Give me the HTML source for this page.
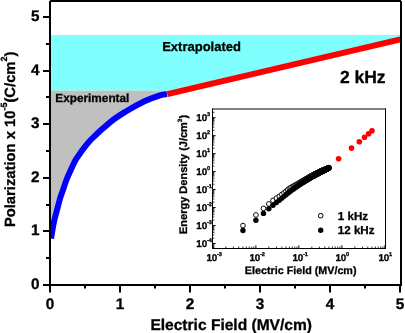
<!DOCTYPE html>
<html><head><meta charset="utf-8"><style>
html,body{margin:0;padding:0;background:#fff;width:405px;height:333px;overflow:hidden}
svg{display:block}
text{text-rendering:geometricPrecision;stroke:#000;stroke-width:0.3px}
</style></head><body>
<svg width="405" height="333" viewBox="0 0 405 333" style="will-change:transform">
<rect x="0" y="0" width="405" height="333" fill="#fff"/>
<path d="M50,35 L401,35 L401,39.22 L167.3,94.13 L167.3,90.7 L50,90.7 Z" fill="#80ffff"/>
<path d="M50,90.7 L167,90.7 L167.00,94.10 C165.83,94.30 163.67,94.15 160.00,95.30 C156.33,96.45 150.83,98.22 145.00,101.00 C139.17,103.78 130.83,108.45 125.00,112.00 C119.17,115.55 115.73,117.63 110.00,122.30 C104.27,126.97 95.57,134.85 90.60,140.00 C85.63,145.15 82.75,149.78 80.20,153.20 C77.65,156.62 76.87,157.70 75.30,160.50 C73.73,163.30 72.28,166.75 70.80,170.00 C69.32,173.25 67.70,176.67 66.40,180.00 C65.10,183.33 64.03,187.00 63.00,190.00 C61.97,193.00 61.20,194.67 60.20,198.00 C59.20,201.33 58.05,206.00 57.00,210.00 C55.95,214.00 54.68,218.50 53.90,222.00 C53.12,225.50 52.78,228.23 52.30,231.00 C51.82,233.77 51.22,237.33 51.00,238.60 L50,238.6 Z" fill="#c0c0c0"/>
<defs><clipPath id="pa"><rect x="50" y="1" width="351" height="284"/></clipPath></defs>
<path d="M51.00,238.60 C51.22,237.33 51.82,233.77 52.30,231.00 C52.78,228.23 53.12,225.50 53.90,222.00 C54.68,218.50 55.95,214.00 57.00,210.00 C58.05,206.00 59.20,201.33 60.20,198.00 C61.20,194.67 61.97,193.00 63.00,190.00 C64.03,187.00 65.10,183.33 66.40,180.00 C67.70,176.67 69.32,173.25 70.80,170.00 C72.28,166.75 73.73,163.30 75.30,160.50 C76.87,157.70 77.65,156.62 80.20,153.20 C82.75,149.78 85.63,145.15 90.60,140.00 C95.57,134.85 104.27,126.97 110.00,122.30 C115.73,117.63 119.17,115.55 125.00,112.00 C130.83,108.45 139.17,103.78 145.00,101.00 C150.83,98.22 156.33,96.45 160.00,95.30 C163.67,94.15 165.83,94.30 167.00,94.10" fill="none" stroke="#0000ff" stroke-width="6" stroke-linecap="butt" stroke-linejoin="round" clip-path="url(#pa)"/>
<line x1="167.3" y1="94.13" x2="400.5" y2="39.33" stroke="#ff0000" stroke-width="6"/>
<path d="M50,0H401V2H50Z M49,1H51V286H49Z M400,1H402V286H400Z M49,284H402V286H49Z" fill="#000"/>
<line x1="43" y1="285.0" x2="50" y2="285.0" stroke="#000" stroke-width="2"/>
<text x="39.5" y="288.6" font-family="Liberation Sans" font-weight="bold" font-size="15.3" text-anchor="end">0</text>
<line x1="43" y1="231.0" x2="50" y2="231.0" stroke="#000" stroke-width="2"/>
<text x="39.5" y="234.6" font-family="Liberation Sans" font-weight="bold" font-size="15.3" text-anchor="end">1</text>
<line x1="43" y1="178.0" x2="50" y2="178.0" stroke="#000" stroke-width="2"/>
<text x="39.5" y="181.6" font-family="Liberation Sans" font-weight="bold" font-size="15.3" text-anchor="end">2</text>
<line x1="43" y1="124.0" x2="50" y2="124.0" stroke="#000" stroke-width="2"/>
<text x="39.5" y="127.6" font-family="Liberation Sans" font-weight="bold" font-size="15.3" text-anchor="end">3</text>
<line x1="43" y1="71.0" x2="50" y2="71.0" stroke="#000" stroke-width="2"/>
<text x="39.5" y="74.6" font-family="Liberation Sans" font-weight="bold" font-size="15.3" text-anchor="end">4</text>
<line x1="43" y1="17.0" x2="50" y2="17.0" stroke="#000" stroke-width="2"/>
<text x="39.5" y="20.6" font-family="Liberation Sans" font-weight="bold" font-size="15.3" text-anchor="end">5</text>
<line x1="46" y1="258.0" x2="50" y2="258.0" stroke="#000" stroke-width="2"/>
<line x1="46" y1="205.0" x2="50" y2="205.0" stroke="#000" stroke-width="2"/>
<line x1="46" y1="151.0" x2="50" y2="151.0" stroke="#000" stroke-width="2"/>
<line x1="46" y1="97.0" x2="50" y2="97.0" stroke="#000" stroke-width="2"/>
<line x1="46" y1="44.0" x2="50" y2="44.0" stroke="#000" stroke-width="2"/>
<line x1="50" y1="285" x2="50" y2="292.5" stroke="#000" stroke-width="2"/>
<text x="50" y="308.8" font-family="Liberation Sans" font-weight="bold" font-size="15.3" text-anchor="middle">0</text>
<line x1="120" y1="285" x2="120" y2="292.5" stroke="#000" stroke-width="2"/>
<text x="120" y="308.8" font-family="Liberation Sans" font-weight="bold" font-size="15.3" text-anchor="middle">1</text>
<line x1="190" y1="285" x2="190" y2="292.5" stroke="#000" stroke-width="2"/>
<text x="190" y="308.8" font-family="Liberation Sans" font-weight="bold" font-size="15.3" text-anchor="middle">2</text>
<line x1="260" y1="285" x2="260" y2="292.5" stroke="#000" stroke-width="2"/>
<text x="260" y="308.8" font-family="Liberation Sans" font-weight="bold" font-size="15.3" text-anchor="middle">3</text>
<line x1="330" y1="285" x2="330" y2="292.5" stroke="#000" stroke-width="2"/>
<text x="330" y="308.8" font-family="Liberation Sans" font-weight="bold" font-size="15.3" text-anchor="middle">4</text>
<line x1="400" y1="285" x2="400" y2="292.5" stroke="#000" stroke-width="2"/>
<text x="400" y="308.8" font-family="Liberation Sans" font-weight="bold" font-size="15.3" text-anchor="middle">5</text>
<line x1="85.0" y1="285" x2="85.0" y2="288.6" stroke="#000" stroke-width="2"/>
<line x1="155.0" y1="285" x2="155.0" y2="288.6" stroke="#000" stroke-width="2"/>
<line x1="225.0" y1="285" x2="225.0" y2="288.6" stroke="#000" stroke-width="2"/>
<line x1="295.0" y1="285" x2="295.0" y2="288.6" stroke="#000" stroke-width="2"/>
<line x1="365.0" y1="285" x2="365.0" y2="288.6" stroke="#000" stroke-width="2"/>
<text x="150.4" y="329.5" font-family="Liberation Sans" font-weight="bold" font-size="15.55">Electric Field (MV/cm)</text>
<text transform="translate(14.6,227.1) rotate(-90)" font-family="Liberation Sans" font-weight="bold" font-size="14.77">Polarization x 10<tspan font-size="9" dy="-8">-5</tspan><tspan dy="8">(C/cm</tspan><tspan font-size="9" dy="-8">2</tspan><tspan dy="8">)</tspan></text>
<text x="162.2" y="51.3" font-family="Liberation Sans" font-weight="bold" font-size="13">Extrapolated</text>
<text x="55.3" y="101.7" font-family="Liberation Sans" font-weight="bold" font-size="11.8">Experimental</text>
<text x="339.9" y="82.8" font-family="Liberation Sans" font-weight="bold" font-size="17.5">2 kHz</text>
<rect x="212" y="109" width="174" height="140" fill="#fff" stroke="none"/>
<circle cx="242.96" cy="225.57" r="2.35" fill="#fff" stroke="#000" stroke-width="0.95"/>
<circle cx="255.90" cy="214.98" r="2.35" fill="#fff" stroke="#000" stroke-width="0.95"/>
<circle cx="263.47" cy="208.39" r="2.35" fill="#fff" stroke="#000" stroke-width="0.95"/>
<circle cx="268.84" cy="203.93" r="2.35" fill="#fff" stroke="#000" stroke-width="0.95"/>
<circle cx="273.01" cy="200.40" r="2.35" fill="#fff" stroke="#000" stroke-width="0.95"/>
<circle cx="276.42" cy="198.12" r="2.35" fill="#fff" stroke="#000" stroke-width="0.95"/>
<circle cx="279.29" cy="196.28" r="2.35" fill="#fff" stroke="#000" stroke-width="0.95"/>
<circle cx="281.79" cy="194.47" r="2.35" fill="#fff" stroke="#000" stroke-width="0.95"/>
<circle cx="283.99" cy="192.86" r="2.35" fill="#fff" stroke="#000" stroke-width="0.95"/>
<circle cx="285.96" cy="191.29" r="2.35" fill="#fff" stroke="#000" stroke-width="0.95"/>
<circle cx="287.74" cy="189.76" r="2.35" fill="#fff" stroke="#000" stroke-width="0.95"/>
<circle cx="289.36" cy="188.50" r="2.35" fill="#fff" stroke="#000" stroke-width="0.95"/>
<circle cx="290.86" cy="187.53" r="2.35" fill="#fff" stroke="#000" stroke-width="0.95"/>
<circle cx="292.24" cy="186.77" r="2.35" fill="#fff" stroke="#000" stroke-width="0.95"/>
<circle cx="293.53" cy="186.06" r="2.35" fill="#fff" stroke="#000" stroke-width="0.95"/>
<circle cx="294.73" cy="185.40" r="2.35" fill="#fff" stroke="#000" stroke-width="0.95"/>
<circle cx="295.87" cy="184.77" r="2.35" fill="#fff" stroke="#000" stroke-width="0.95"/>
<circle cx="296.93" cy="184.19" r="2.35" fill="#fff" stroke="#000" stroke-width="0.95"/>
<circle cx="297.94" cy="183.63" r="2.35" fill="#fff" stroke="#000" stroke-width="0.95"/>
<circle cx="298.90" cy="183.11" r="2.35" fill="#fff" stroke="#000" stroke-width="0.95"/>
<circle cx="299.81" cy="182.60" r="2.35" fill="#fff" stroke="#000" stroke-width="0.95"/>
<circle cx="300.68" cy="182.09" r="2.35" fill="#fff" stroke="#000" stroke-width="0.95"/>
<circle cx="301.51" cy="181.59" r="2.35" fill="#fff" stroke="#000" stroke-width="0.95"/>
<circle cx="302.30" cy="181.12" r="2.35" fill="#fff" stroke="#000" stroke-width="0.95"/>
<circle cx="303.07" cy="180.66" r="2.35" fill="#fff" stroke="#000" stroke-width="0.95"/>
<circle cx="303.80" cy="180.22" r="2.35" fill="#fff" stroke="#000" stroke-width="0.95"/>
<circle cx="304.50" cy="179.80" r="2.35" fill="#fff" stroke="#000" stroke-width="0.95"/>
<circle cx="305.18" cy="179.39" r="2.35" fill="#fff" stroke="#000" stroke-width="0.95"/>
<circle cx="305.84" cy="179.00" r="2.35" fill="#fff" stroke="#000" stroke-width="0.95"/>
<circle cx="306.47" cy="178.62" r="2.35" fill="#fff" stroke="#000" stroke-width="0.95"/>
<circle cx="307.08" cy="178.25" r="2.35" fill="#fff" stroke="#000" stroke-width="0.95"/>
<circle cx="307.68" cy="177.89" r="2.35" fill="#fff" stroke="#000" stroke-width="0.95"/>
<circle cx="308.25" cy="177.55" r="2.35" fill="#fff" stroke="#000" stroke-width="0.95"/>
<circle cx="308.81" cy="177.21" r="2.35" fill="#fff" stroke="#000" stroke-width="0.95"/>
<circle cx="309.35" cy="176.89" r="2.35" fill="#fff" stroke="#000" stroke-width="0.95"/>
<circle cx="309.88" cy="176.57" r="2.35" fill="#fff" stroke="#000" stroke-width="0.95"/>
<circle cx="310.39" cy="176.30" r="2.35" fill="#fff" stroke="#000" stroke-width="0.95"/>
<circle cx="310.89" cy="176.05" r="2.35" fill="#fff" stroke="#000" stroke-width="0.95"/>
<circle cx="311.37" cy="175.80" r="2.35" fill="#fff" stroke="#000" stroke-width="0.95"/>
<circle cx="311.84" cy="175.56" r="2.35" fill="#fff" stroke="#000" stroke-width="0.95"/>
<circle cx="312.31" cy="175.32" r="2.35" fill="#fff" stroke="#000" stroke-width="0.95"/>
<circle cx="312.76" cy="175.09" r="2.35" fill="#fff" stroke="#000" stroke-width="0.95"/>
<circle cx="313.19" cy="174.87" r="2.35" fill="#fff" stroke="#000" stroke-width="0.95"/>
<circle cx="313.62" cy="174.65" r="2.35" fill="#fff" stroke="#000" stroke-width="0.95"/>
<circle cx="314.04" cy="174.44" r="2.35" fill="#fff" stroke="#000" stroke-width="0.95"/>
<circle cx="314.45" cy="174.23" r="2.35" fill="#fff" stroke="#000" stroke-width="0.95"/>
<circle cx="314.86" cy="174.02" r="2.35" fill="#fff" stroke="#000" stroke-width="0.95"/>
<circle cx="315.25" cy="173.82" r="2.35" fill="#fff" stroke="#000" stroke-width="0.95"/>
<circle cx="315.63" cy="173.63" r="2.35" fill="#fff" stroke="#000" stroke-width="0.95"/>
<circle cx="316.01" cy="173.43" r="2.35" fill="#fff" stroke="#000" stroke-width="0.95"/>
<circle cx="316.38" cy="173.25" r="2.35" fill="#fff" stroke="#000" stroke-width="0.95"/>
<circle cx="316.74" cy="173.06" r="2.35" fill="#fff" stroke="#000" stroke-width="0.95"/>
<circle cx="317.10" cy="172.88" r="2.35" fill="#fff" stroke="#000" stroke-width="0.95"/>
<circle cx="317.45" cy="172.70" r="2.35" fill="#fff" stroke="#000" stroke-width="0.95"/>
<circle cx="317.79" cy="172.53" r="2.35" fill="#fff" stroke="#000" stroke-width="0.95"/>
<circle cx="318.13" cy="172.35" r="2.35" fill="#fff" stroke="#000" stroke-width="0.95"/>
<circle cx="318.46" cy="172.19" r="2.35" fill="#fff" stroke="#000" stroke-width="0.95"/>
<circle cx="318.78" cy="172.02" r="2.35" fill="#fff" stroke="#000" stroke-width="0.95"/>
<circle cx="319.10" cy="171.86" r="2.35" fill="#fff" stroke="#000" stroke-width="0.95"/>
<circle cx="319.42" cy="171.70" r="2.35" fill="#fff" stroke="#000" stroke-width="0.95"/>
<circle cx="319.72" cy="171.54" r="2.35" fill="#fff" stroke="#000" stroke-width="0.95"/>
<circle cx="320.03" cy="171.39" r="2.35" fill="#fff" stroke="#000" stroke-width="0.95"/>
<circle cx="320.33" cy="171.26" r="2.35" fill="#fff" stroke="#000" stroke-width="0.95"/>
<circle cx="320.62" cy="171.14" r="2.35" fill="#fff" stroke="#000" stroke-width="0.95"/>
<circle cx="320.91" cy="171.02" r="2.35" fill="#fff" stroke="#000" stroke-width="0.95"/>
<circle cx="321.20" cy="170.89" r="2.35" fill="#fff" stroke="#000" stroke-width="0.95"/>
<circle cx="321.48" cy="170.78" r="2.35" fill="#fff" stroke="#000" stroke-width="0.95"/>
<circle cx="321.75" cy="170.66" r="2.35" fill="#fff" stroke="#000" stroke-width="0.95"/>
<circle cx="322.03" cy="170.54" r="2.35" fill="#fff" stroke="#000" stroke-width="0.95"/>
<circle cx="322.29" cy="170.43" r="2.35" fill="#fff" stroke="#000" stroke-width="0.95"/>
<circle cx="322.56" cy="170.32" r="2.35" fill="#fff" stroke="#000" stroke-width="0.95"/>
<circle cx="322.82" cy="170.21" r="2.35" fill="#fff" stroke="#000" stroke-width="0.95"/>
<circle cx="323.08" cy="170.10" r="2.35" fill="#fff" stroke="#000" stroke-width="0.95"/>
<circle cx="323.33" cy="169.99" r="2.35" fill="#fff" stroke="#000" stroke-width="0.95"/>
<circle cx="323.58" cy="169.89" r="2.35" fill="#fff" stroke="#000" stroke-width="0.95"/>
<circle cx="323.83" cy="169.78" r="2.35" fill="#fff" stroke="#000" stroke-width="0.95"/>
<circle cx="324.07" cy="169.68" r="2.35" fill="#fff" stroke="#000" stroke-width="0.95"/>
<circle cx="324.32" cy="169.58" r="2.35" fill="#fff" stroke="#000" stroke-width="0.95"/>
<circle cx="324.55" cy="169.48" r="2.35" fill="#fff" stroke="#000" stroke-width="0.95"/>
<circle cx="324.79" cy="169.38" r="2.35" fill="#fff" stroke="#000" stroke-width="0.95"/>
<circle cx="325.02" cy="169.28" r="2.35" fill="#fff" stroke="#000" stroke-width="0.95"/>
<circle cx="325.25" cy="169.18" r="2.35" fill="#fff" stroke="#000" stroke-width="0.95"/>
<circle cx="325.48" cy="169.09" r="2.35" fill="#fff" stroke="#000" stroke-width="0.95"/>
<circle cx="325.70" cy="168.99" r="2.35" fill="#fff" stroke="#000" stroke-width="0.95"/>
<circle cx="325.92" cy="168.90" r="2.35" fill="#fff" stroke="#000" stroke-width="0.95"/>
<circle cx="326.14" cy="168.81" r="2.35" fill="#fff" stroke="#000" stroke-width="0.95"/>
<circle cx="326.36" cy="168.72" r="2.35" fill="#fff" stroke="#000" stroke-width="0.95"/>
<circle cx="326.57" cy="168.63" r="2.35" fill="#fff" stroke="#000" stroke-width="0.95"/>
<circle cx="326.78" cy="168.54" r="2.35" fill="#fff" stroke="#000" stroke-width="0.95"/>
<circle cx="326.99" cy="168.45" r="2.35" fill="#fff" stroke="#000" stroke-width="0.95"/>
<circle cx="327.19" cy="168.36" r="2.35" fill="#fff" stroke="#000" stroke-width="0.95"/>
<circle cx="327.40" cy="168.28" r="2.35" fill="#fff" stroke="#000" stroke-width="0.95"/>
<circle cx="327.60" cy="168.19" r="2.35" fill="#fff" stroke="#000" stroke-width="0.95"/>
<circle cx="327.80" cy="168.11" r="2.35" fill="#fff" stroke="#000" stroke-width="0.95"/>
<circle cx="328.00" cy="168.02" r="2.35" fill="#fff" stroke="#000" stroke-width="0.95"/>
<circle cx="328.19" cy="167.94" r="2.35" fill="#fff" stroke="#000" stroke-width="0.95"/>
<circle cx="328.39" cy="167.86" r="2.35" fill="#fff" stroke="#000" stroke-width="0.95"/>
<circle cx="328.58" cy="167.78" r="2.35" fill="#fff" stroke="#000" stroke-width="0.95"/>
<circle cx="328.77" cy="167.70" r="2.35" fill="#fff" stroke="#000" stroke-width="0.95"/>
<circle cx="328.96" cy="167.62" r="2.35" fill="#fff" stroke="#000" stroke-width="0.95"/>
<circle cx="242.96" cy="230.48" r="2.7" fill="#000"/>
<circle cx="255.90" cy="220.18" r="2.7" fill="#000"/>
<circle cx="263.47" cy="213.38" r="2.7" fill="#000"/>
<circle cx="268.84" cy="208.75" r="2.7" fill="#000"/>
<circle cx="273.01" cy="205.34" r="2.7" fill="#000"/>
<circle cx="276.42" cy="202.54" r="2.7" fill="#000"/>
<circle cx="279.29" cy="200.18" r="2.7" fill="#000"/>
<circle cx="281.79" cy="198.14" r="2.7" fill="#000"/>
<circle cx="283.99" cy="196.33" r="2.7" fill="#000"/>
<circle cx="285.96" cy="194.72" r="2.7" fill="#000"/>
<circle cx="287.74" cy="193.26" r="2.7" fill="#000"/>
<circle cx="289.36" cy="191.92" r="2.7" fill="#000"/>
<circle cx="290.86" cy="190.79" r="2.7" fill="#000"/>
<circle cx="292.24" cy="189.81" r="2.7" fill="#000"/>
<circle cx="293.53" cy="188.90" r="2.7" fill="#000"/>
<circle cx="294.73" cy="188.04" r="2.7" fill="#000"/>
<circle cx="295.87" cy="187.24" r="2.7" fill="#000"/>
<circle cx="296.93" cy="186.48" r="2.7" fill="#000"/>
<circle cx="297.94" cy="185.76" r="2.7" fill="#000"/>
<circle cx="298.90" cy="185.08" r="2.7" fill="#000"/>
<circle cx="299.81" cy="184.43" r="2.7" fill="#000"/>
<circle cx="300.68" cy="183.88" r="2.7" fill="#000"/>
<circle cx="301.51" cy="183.36" r="2.7" fill="#000"/>
<circle cx="302.30" cy="182.87" r="2.7" fill="#000"/>
<circle cx="303.07" cy="182.40" r="2.7" fill="#000"/>
<circle cx="303.80" cy="181.94" r="2.7" fill="#000"/>
<circle cx="304.50" cy="181.51" r="2.7" fill="#000"/>
<circle cx="305.18" cy="181.09" r="2.7" fill="#000"/>
<circle cx="305.84" cy="180.68" r="2.7" fill="#000"/>
<circle cx="306.47" cy="180.29" r="2.7" fill="#000"/>
<circle cx="307.08" cy="179.91" r="2.7" fill="#000"/>
<circle cx="307.68" cy="179.54" r="2.7" fill="#000"/>
<circle cx="308.25" cy="179.18" r="2.7" fill="#000"/>
<circle cx="308.81" cy="178.84" r="2.7" fill="#000"/>
<circle cx="309.35" cy="178.50" r="2.7" fill="#000"/>
<circle cx="309.88" cy="178.18" r="2.7" fill="#000"/>
<circle cx="310.39" cy="177.89" r="2.7" fill="#000"/>
<circle cx="310.89" cy="177.61" r="2.7" fill="#000"/>
<circle cx="311.37" cy="177.35" r="2.7" fill="#000"/>
<circle cx="311.84" cy="177.09" r="2.7" fill="#000"/>
<circle cx="312.31" cy="176.83" r="2.7" fill="#000"/>
<circle cx="312.76" cy="176.58" r="2.7" fill="#000"/>
<circle cx="313.19" cy="176.34" r="2.7" fill="#000"/>
<circle cx="313.62" cy="176.11" r="2.7" fill="#000"/>
<circle cx="314.04" cy="175.88" r="2.7" fill="#000"/>
<circle cx="314.45" cy="175.65" r="2.7" fill="#000"/>
<circle cx="314.86" cy="175.43" r="2.7" fill="#000"/>
<circle cx="315.25" cy="175.21" r="2.7" fill="#000"/>
<circle cx="315.63" cy="175.00" r="2.7" fill="#000"/>
<circle cx="316.01" cy="174.79" r="2.7" fill="#000"/>
<circle cx="316.38" cy="174.59" r="2.7" fill="#000"/>
<circle cx="316.74" cy="174.39" r="2.7" fill="#000"/>
<circle cx="317.10" cy="174.20" r="2.7" fill="#000"/>
<circle cx="317.45" cy="174.00" r="2.7" fill="#000"/>
<circle cx="317.79" cy="173.81" r="2.7" fill="#000"/>
<circle cx="318.13" cy="173.63" r="2.7" fill="#000"/>
<circle cx="318.46" cy="173.45" r="2.7" fill="#000"/>
<circle cx="318.78" cy="173.27" r="2.7" fill="#000"/>
<circle cx="319.10" cy="173.09" r="2.7" fill="#000"/>
<circle cx="319.42" cy="172.92" r="2.7" fill="#000"/>
<circle cx="319.72" cy="172.75" r="2.7" fill="#000"/>
<circle cx="320.03" cy="172.59" r="2.7" fill="#000"/>
<circle cx="320.33" cy="172.43" r="2.7" fill="#000"/>
<circle cx="320.62" cy="172.28" r="2.7" fill="#000"/>
<circle cx="320.91" cy="172.13" r="2.7" fill="#000"/>
<circle cx="321.20" cy="171.99" r="2.7" fill="#000"/>
<circle cx="321.48" cy="171.85" r="2.7" fill="#000"/>
<circle cx="321.75" cy="171.70" r="2.7" fill="#000"/>
<circle cx="322.03" cy="171.56" r="2.7" fill="#000"/>
<circle cx="322.29" cy="171.43" r="2.7" fill="#000"/>
<circle cx="322.56" cy="171.29" r="2.7" fill="#000"/>
<circle cx="322.82" cy="171.16" r="2.7" fill="#000"/>
<circle cx="323.08" cy="171.03" r="2.7" fill="#000"/>
<circle cx="323.33" cy="170.90" r="2.7" fill="#000"/>
<circle cx="323.58" cy="170.77" r="2.7" fill="#000"/>
<circle cx="323.83" cy="170.64" r="2.7" fill="#000"/>
<circle cx="324.07" cy="170.52" r="2.7" fill="#000"/>
<circle cx="324.32" cy="170.39" r="2.7" fill="#000"/>
<circle cx="324.55" cy="170.27" r="2.7" fill="#000"/>
<circle cx="324.79" cy="170.15" r="2.7" fill="#000"/>
<circle cx="325.02" cy="170.03" r="2.7" fill="#000"/>
<circle cx="325.25" cy="169.92" r="2.7" fill="#000"/>
<circle cx="325.48" cy="169.80" r="2.7" fill="#000"/>
<circle cx="325.70" cy="169.69" r="2.7" fill="#000"/>
<circle cx="325.92" cy="169.57" r="2.7" fill="#000"/>
<circle cx="326.14" cy="169.46" r="2.7" fill="#000"/>
<circle cx="326.36" cy="169.35" r="2.7" fill="#000"/>
<circle cx="326.57" cy="169.24" r="2.7" fill="#000"/>
<circle cx="326.78" cy="169.13" r="2.7" fill="#000"/>
<circle cx="326.99" cy="169.03" r="2.7" fill="#000"/>
<circle cx="327.19" cy="168.92" r="2.7" fill="#000"/>
<circle cx="327.40" cy="168.82" r="2.7" fill="#000"/>
<circle cx="327.60" cy="168.72" r="2.7" fill="#000"/>
<circle cx="327.80" cy="168.61" r="2.7" fill="#000"/>
<circle cx="328.00" cy="168.51" r="2.7" fill="#000"/>
<circle cx="328.19" cy="168.41" r="2.7" fill="#000"/>
<circle cx="328.39" cy="168.31" r="2.7" fill="#000"/>
<circle cx="328.58" cy="168.22" r="2.7" fill="#000"/>
<circle cx="328.77" cy="168.12" r="2.7" fill="#000"/>
<circle cx="328.96" cy="168.02" r="2.7" fill="#000"/>
<circle cx="338.60" cy="158.70" r="2.8" fill="#ff0000"/>
<circle cx="351.50" cy="148.10" r="2.8" fill="#ff0000"/>
<circle cx="359.30" cy="141.80" r="2.8" fill="#ff0000"/>
<circle cx="364.50" cy="137.30" r="2.8" fill="#ff0000"/>
<circle cx="368.60" cy="133.80" r="2.8" fill="#ff0000"/>
<circle cx="372.00" cy="130.80" r="2.8" fill="#ff0000"/>
<path d="M212.5,108.5 V249 M212,109 H386 M385.5,108.5 V249 M212,248.5 H386" fill="none" stroke="#000" stroke-width="1"/>
<line x1="212.5" y1="243.49" x2="215.6" y2="243.49" stroke="#000" stroke-width="1"/>
<line x1="212.5" y1="238.08" x2="214.4" y2="238.08" stroke="#000" stroke-width="0.8"/>
<line x1="212.5" y1="234.92" x2="214.4" y2="234.92" stroke="#000" stroke-width="0.8"/>
<line x1="212.5" y1="232.67" x2="214.4" y2="232.67" stroke="#000" stroke-width="0.8"/>
<line x1="212.5" y1="230.93" x2="214.4" y2="230.93" stroke="#000" stroke-width="0.8"/>
<line x1="212.5" y1="229.51" x2="214.4" y2="229.51" stroke="#000" stroke-width="0.8"/>
<line x1="212.5" y1="228.30" x2="214.4" y2="228.30" stroke="#000" stroke-width="0.8"/>
<line x1="212.5" y1="227.26" x2="214.4" y2="227.26" stroke="#000" stroke-width="0.8"/>
<line x1="212.5" y1="226.34" x2="214.4" y2="226.34" stroke="#000" stroke-width="0.8"/>
<line x1="212.5" y1="225.52" x2="215.6" y2="225.52" stroke="#000" stroke-width="1"/>
<line x1="212.5" y1="220.11" x2="214.4" y2="220.11" stroke="#000" stroke-width="0.8"/>
<line x1="212.5" y1="216.95" x2="214.4" y2="216.95" stroke="#000" stroke-width="0.8"/>
<line x1="212.5" y1="214.70" x2="214.4" y2="214.70" stroke="#000" stroke-width="0.8"/>
<line x1="212.5" y1="212.96" x2="214.4" y2="212.96" stroke="#000" stroke-width="0.8"/>
<line x1="212.5" y1="211.54" x2="214.4" y2="211.54" stroke="#000" stroke-width="0.8"/>
<line x1="212.5" y1="210.33" x2="214.4" y2="210.33" stroke="#000" stroke-width="0.8"/>
<line x1="212.5" y1="209.29" x2="214.4" y2="209.29" stroke="#000" stroke-width="0.8"/>
<line x1="212.5" y1="208.37" x2="214.4" y2="208.37" stroke="#000" stroke-width="0.8"/>
<line x1="212.5" y1="207.55" x2="215.6" y2="207.55" stroke="#000" stroke-width="1"/>
<line x1="212.5" y1="202.14" x2="214.4" y2="202.14" stroke="#000" stroke-width="0.8"/>
<line x1="212.5" y1="198.98" x2="214.4" y2="198.98" stroke="#000" stroke-width="0.8"/>
<line x1="212.5" y1="196.73" x2="214.4" y2="196.73" stroke="#000" stroke-width="0.8"/>
<line x1="212.5" y1="194.99" x2="214.4" y2="194.99" stroke="#000" stroke-width="0.8"/>
<line x1="212.5" y1="193.57" x2="214.4" y2="193.57" stroke="#000" stroke-width="0.8"/>
<line x1="212.5" y1="192.36" x2="214.4" y2="192.36" stroke="#000" stroke-width="0.8"/>
<line x1="212.5" y1="191.32" x2="214.4" y2="191.32" stroke="#000" stroke-width="0.8"/>
<line x1="212.5" y1="190.40" x2="214.4" y2="190.40" stroke="#000" stroke-width="0.8"/>
<line x1="212.5" y1="189.58" x2="215.6" y2="189.58" stroke="#000" stroke-width="1"/>
<line x1="212.5" y1="184.17" x2="214.4" y2="184.17" stroke="#000" stroke-width="0.8"/>
<line x1="212.5" y1="181.01" x2="214.4" y2="181.01" stroke="#000" stroke-width="0.8"/>
<line x1="212.5" y1="178.76" x2="214.4" y2="178.76" stroke="#000" stroke-width="0.8"/>
<line x1="212.5" y1="177.02" x2="214.4" y2="177.02" stroke="#000" stroke-width="0.8"/>
<line x1="212.5" y1="175.60" x2="214.4" y2="175.60" stroke="#000" stroke-width="0.8"/>
<line x1="212.5" y1="174.39" x2="214.4" y2="174.39" stroke="#000" stroke-width="0.8"/>
<line x1="212.5" y1="173.35" x2="214.4" y2="173.35" stroke="#000" stroke-width="0.8"/>
<line x1="212.5" y1="172.43" x2="214.4" y2="172.43" stroke="#000" stroke-width="0.8"/>
<line x1="212.5" y1="171.61" x2="215.6" y2="171.61" stroke="#000" stroke-width="1"/>
<line x1="212.5" y1="166.20" x2="214.4" y2="166.20" stroke="#000" stroke-width="0.8"/>
<line x1="212.5" y1="163.04" x2="214.4" y2="163.04" stroke="#000" stroke-width="0.8"/>
<line x1="212.5" y1="160.79" x2="214.4" y2="160.79" stroke="#000" stroke-width="0.8"/>
<line x1="212.5" y1="159.05" x2="214.4" y2="159.05" stroke="#000" stroke-width="0.8"/>
<line x1="212.5" y1="157.63" x2="214.4" y2="157.63" stroke="#000" stroke-width="0.8"/>
<line x1="212.5" y1="156.42" x2="214.4" y2="156.42" stroke="#000" stroke-width="0.8"/>
<line x1="212.5" y1="155.38" x2="214.4" y2="155.38" stroke="#000" stroke-width="0.8"/>
<line x1="212.5" y1="154.46" x2="214.4" y2="154.46" stroke="#000" stroke-width="0.8"/>
<line x1="212.5" y1="153.64" x2="215.6" y2="153.64" stroke="#000" stroke-width="1"/>
<line x1="212.5" y1="148.23" x2="214.4" y2="148.23" stroke="#000" stroke-width="0.8"/>
<line x1="212.5" y1="145.07" x2="214.4" y2="145.07" stroke="#000" stroke-width="0.8"/>
<line x1="212.5" y1="142.82" x2="214.4" y2="142.82" stroke="#000" stroke-width="0.8"/>
<line x1="212.5" y1="141.08" x2="214.4" y2="141.08" stroke="#000" stroke-width="0.8"/>
<line x1="212.5" y1="139.66" x2="214.4" y2="139.66" stroke="#000" stroke-width="0.8"/>
<line x1="212.5" y1="138.45" x2="214.4" y2="138.45" stroke="#000" stroke-width="0.8"/>
<line x1="212.5" y1="137.41" x2="214.4" y2="137.41" stroke="#000" stroke-width="0.8"/>
<line x1="212.5" y1="136.49" x2="214.4" y2="136.49" stroke="#000" stroke-width="0.8"/>
<line x1="212.5" y1="135.67" x2="215.6" y2="135.67" stroke="#000" stroke-width="1"/>
<line x1="212.5" y1="130.26" x2="214.4" y2="130.26" stroke="#000" stroke-width="0.8"/>
<line x1="212.5" y1="127.10" x2="214.4" y2="127.10" stroke="#000" stroke-width="0.8"/>
<line x1="212.5" y1="124.85" x2="214.4" y2="124.85" stroke="#000" stroke-width="0.8"/>
<line x1="212.5" y1="123.11" x2="214.4" y2="123.11" stroke="#000" stroke-width="0.8"/>
<line x1="212.5" y1="121.69" x2="214.4" y2="121.69" stroke="#000" stroke-width="0.8"/>
<line x1="212.5" y1="120.48" x2="214.4" y2="120.48" stroke="#000" stroke-width="0.8"/>
<line x1="212.5" y1="119.44" x2="214.4" y2="119.44" stroke="#000" stroke-width="0.8"/>
<line x1="212.5" y1="118.52" x2="214.4" y2="118.52" stroke="#000" stroke-width="0.8"/>
<line x1="212.5" y1="117.70" x2="215.6" y2="117.70" stroke="#000" stroke-width="1"/>
<line x1="212.5" y1="112.29" x2="214.4" y2="112.29" stroke="#000" stroke-width="0.8"/>
<line x1="212.5" y1="247.48" x2="214.4" y2="247.48" stroke="#000" stroke-width="0.8"/>
<line x1="212.5" y1="246.27" x2="214.4" y2="246.27" stroke="#000" stroke-width="0.8"/>
<line x1="212.5" y1="245.23" x2="214.4" y2="245.23" stroke="#000" stroke-width="0.8"/>
<line x1="212.5" y1="244.31" x2="214.4" y2="244.31" stroke="#000" stroke-width="0.8"/>
<line x1="212.90" y1="248.5" x2="212.90" y2="245.4" stroke="#000" stroke-width="1"/>
<line x1="225.84" y1="248.5" x2="225.84" y2="246.5" stroke="#000" stroke-width="0.8"/>
<line x1="233.42" y1="248.5" x2="233.42" y2="246.5" stroke="#000" stroke-width="0.8"/>
<line x1="238.79" y1="248.5" x2="238.79" y2="246.5" stroke="#000" stroke-width="0.8"/>
<line x1="242.96" y1="248.5" x2="242.96" y2="246.5" stroke="#000" stroke-width="0.8"/>
<line x1="246.36" y1="248.5" x2="246.36" y2="246.5" stroke="#000" stroke-width="0.8"/>
<line x1="249.24" y1="248.5" x2="249.24" y2="246.5" stroke="#000" stroke-width="0.8"/>
<line x1="251.73" y1="248.5" x2="251.73" y2="246.5" stroke="#000" stroke-width="0.8"/>
<line x1="253.93" y1="248.5" x2="253.93" y2="246.5" stroke="#000" stroke-width="0.8"/>
<line x1="255.90" y1="248.5" x2="255.90" y2="245.4" stroke="#000" stroke-width="1"/>
<line x1="268.84" y1="248.5" x2="268.84" y2="246.5" stroke="#000" stroke-width="0.8"/>
<line x1="276.42" y1="248.5" x2="276.42" y2="246.5" stroke="#000" stroke-width="0.8"/>
<line x1="281.79" y1="248.5" x2="281.79" y2="246.5" stroke="#000" stroke-width="0.8"/>
<line x1="285.96" y1="248.5" x2="285.96" y2="246.5" stroke="#000" stroke-width="0.8"/>
<line x1="289.36" y1="248.5" x2="289.36" y2="246.5" stroke="#000" stroke-width="0.8"/>
<line x1="292.24" y1="248.5" x2="292.24" y2="246.5" stroke="#000" stroke-width="0.8"/>
<line x1="294.73" y1="248.5" x2="294.73" y2="246.5" stroke="#000" stroke-width="0.8"/>
<line x1="296.93" y1="248.5" x2="296.93" y2="246.5" stroke="#000" stroke-width="0.8"/>
<line x1="298.90" y1="248.5" x2="298.90" y2="245.4" stroke="#000" stroke-width="1"/>
<line x1="311.84" y1="248.5" x2="311.84" y2="246.5" stroke="#000" stroke-width="0.8"/>
<line x1="319.42" y1="248.5" x2="319.42" y2="246.5" stroke="#000" stroke-width="0.8"/>
<line x1="324.79" y1="248.5" x2="324.79" y2="246.5" stroke="#000" stroke-width="0.8"/>
<line x1="328.96" y1="248.5" x2="328.96" y2="246.5" stroke="#000" stroke-width="0.8"/>
<line x1="332.36" y1="248.5" x2="332.36" y2="246.5" stroke="#000" stroke-width="0.8"/>
<line x1="335.24" y1="248.5" x2="335.24" y2="246.5" stroke="#000" stroke-width="0.8"/>
<line x1="337.73" y1="248.5" x2="337.73" y2="246.5" stroke="#000" stroke-width="0.8"/>
<line x1="339.93" y1="248.5" x2="339.93" y2="246.5" stroke="#000" stroke-width="0.8"/>
<line x1="341.90" y1="248.5" x2="341.90" y2="245.4" stroke="#000" stroke-width="1"/>
<line x1="354.84" y1="248.5" x2="354.84" y2="246.5" stroke="#000" stroke-width="0.8"/>
<line x1="362.42" y1="248.5" x2="362.42" y2="246.5" stroke="#000" stroke-width="0.8"/>
<line x1="367.79" y1="248.5" x2="367.79" y2="246.5" stroke="#000" stroke-width="0.8"/>
<line x1="371.96" y1="248.5" x2="371.96" y2="246.5" stroke="#000" stroke-width="0.8"/>
<line x1="375.36" y1="248.5" x2="375.36" y2="246.5" stroke="#000" stroke-width="0.8"/>
<line x1="378.24" y1="248.5" x2="378.24" y2="246.5" stroke="#000" stroke-width="0.8"/>
<line x1="380.73" y1="248.5" x2="380.73" y2="246.5" stroke="#000" stroke-width="0.8"/>
<line x1="382.93" y1="248.5" x2="382.93" y2="246.5" stroke="#000" stroke-width="0.8"/>
<line x1="384.90" y1="248.5" x2="384.90" y2="245.4" stroke="#000" stroke-width="1"/>
<text x="207.2" y="246.79" font-family="Liberation Sans" font-weight="bold" font-size="9.8" text-anchor="end">10</text>
<text x="206.9" y="242.19" font-family="Liberation Sans" font-weight="bold" font-size="5.6">-4</text>
<text x="207.2" y="228.82" font-family="Liberation Sans" font-weight="bold" font-size="9.8" text-anchor="end">10</text>
<text x="206.9" y="224.22" font-family="Liberation Sans" font-weight="bold" font-size="5.6">-3</text>
<text x="207.2" y="210.85" font-family="Liberation Sans" font-weight="bold" font-size="9.8" text-anchor="end">10</text>
<text x="206.9" y="206.25" font-family="Liberation Sans" font-weight="bold" font-size="5.6">-2</text>
<text x="207.2" y="192.88" font-family="Liberation Sans" font-weight="bold" font-size="9.8" text-anchor="end">10</text>
<text x="206.9" y="188.28" font-family="Liberation Sans" font-weight="bold" font-size="5.6">-1</text>
<text x="207.2" y="174.91" font-family="Liberation Sans" font-weight="bold" font-size="9.8" text-anchor="end">10</text>
<text x="206.9" y="170.31" font-family="Liberation Sans" font-weight="bold" font-size="5.6">0</text>
<text x="207.2" y="156.94" font-family="Liberation Sans" font-weight="bold" font-size="9.8" text-anchor="end">10</text>
<text x="206.9" y="152.34" font-family="Liberation Sans" font-weight="bold" font-size="5.6">1</text>
<text x="207.2" y="138.97" font-family="Liberation Sans" font-weight="bold" font-size="9.8" text-anchor="end">10</text>
<text x="206.9" y="134.37" font-family="Liberation Sans" font-weight="bold" font-size="5.6">2</text>
<text x="207.2" y="121.00" font-family="Liberation Sans" font-weight="bold" font-size="9.8" text-anchor="end">10</text>
<text x="206.9" y="116.40" font-family="Liberation Sans" font-weight="bold" font-size="5.6">3</text>
<text x="217.30" y="260.6" font-family="Liberation Sans" font-weight="bold" font-size="9.8" text-anchor="end">10</text>
<text x="217.00" y="256.2" font-family="Liberation Sans" font-weight="bold" font-size="5.6">-3</text>
<text x="260.30" y="260.6" font-family="Liberation Sans" font-weight="bold" font-size="9.8" text-anchor="end">10</text>
<text x="260.00" y="256.2" font-family="Liberation Sans" font-weight="bold" font-size="5.6">-2</text>
<text x="303.30" y="260.6" font-family="Liberation Sans" font-weight="bold" font-size="9.8" text-anchor="end">10</text>
<text x="303.00" y="256.2" font-family="Liberation Sans" font-weight="bold" font-size="5.6">-1</text>
<text x="346.30" y="260.6" font-family="Liberation Sans" font-weight="bold" font-size="9.8" text-anchor="end">10</text>
<text x="346.00" y="256.2" font-family="Liberation Sans" font-weight="bold" font-size="5.6">0</text>
<text x="389.30" y="260.6" font-family="Liberation Sans" font-weight="bold" font-size="9.8" text-anchor="end">10</text>
<text x="389.00" y="256.2" font-family="Liberation Sans" font-weight="bold" font-size="5.6">1</text>
<text x="244.8" y="273.7" font-family="Liberation Sans" font-weight="bold" font-size="10.75">Electric Field (MV/cm)</text>
<text transform="translate(187.2,234) rotate(-90)" font-family="Liberation Sans" font-weight="bold" font-size="11">Energy Density (J/cm<tspan font-size="6.3" dy="-5.2">3</tspan><tspan dy="5.2">)</tspan></text>
<circle cx="320.7" cy="215.7" r="2.35" fill="#fff" stroke="#000" stroke-width="1"/>
<circle cx="320.7" cy="230.2" r="2.7" fill="#000"/>
<text x="337.8" y="219.9" font-family="Liberation Sans" font-weight="bold" font-size="11.6">1 kHz</text>
<text x="337.8" y="234.1" font-family="Liberation Sans" font-weight="bold" font-size="11.6">12 kHz</text>
</svg>
</body></html>
